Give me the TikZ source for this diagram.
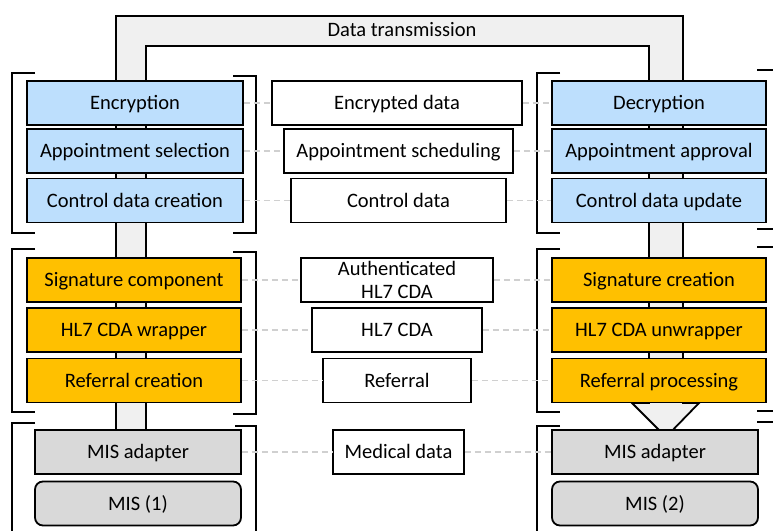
\documentclass[tikz,border=0pt]{standalone}
\usepackage{fontspec}
\setmainfont{Carlito}
\definecolor{lblue}{HTML}{BDDFFD}
\definecolor{gold}{HTML}{FFC000}
\definecolor{mgray}{HTML}{D9D9D9}
\definecolor{sgray}{HTML}{F0F0F0}
\definecolor{dgray}{HTML}{D0D0D0}
\begin{document}
\begin{tikzpicture}[x=1pt,y=-1pt,
  txt/.style={font=\fontsize{20.5}{23.5}\selectfont,text height=13.2pt,text depth=0pt,align=center},
  box/.style={txt,draw=black,line width=1.8pt,inner sep=0pt,minimum height=44pt},
  bluebox/.style={box,fill=lblue,minimum width=214pt},
  goldbox/.style={box,fill=gold,minimum width=214pt},
  graybox/.style={box,fill=mgray,minimum width=206pt},
  misbox/.style={graybox,rounded corners=8pt},
  databox/.style={box,fill=white},
  dline/.style={draw=dgray,line width=1.4pt,dash pattern=on 6pt off 4pt},
  brk/.style={draw=black,line width=1.8pt}]
\useasboundingbox (0,0) rectangle (773,530);
% transmission band
\draw[fill=sgray,line width=1.8pt,line join=miter]
  (116,440) -- (116,16) -- (683,16) -- (683,403) -- (699,403) -- (666,437)
  -- (632,403) -- (649,403) -- (649,46) -- (146,46) -- (146,440) -- cycle;
\node[txt,inner sep=0pt] (dt) at (402,30) {Data transmission};
% brackets left side
\draw[brk] (35,73) -- (12,73) -- (12,233) -- (35,233);
\draw[brk] (233,76) -- (256,76) -- (256,233) -- (233,233);
\draw[brk] (35,249) -- (12,249) -- (12,412) -- (35,412);
\draw[brk] (233,252) -- (256,252) -- (256,414) -- (233,414);
\draw[brk] (35,423) -- (12,423) -- (12,540);
\draw[brk] (235,426) -- (256,426) -- (256,540);
% brackets right side
\draw[brk] (560,73) -- (537,73) -- (537,233) -- (560,233);
\draw[brk] (757,70) -- (777,70) -- (777,229) -- (757,229);
\draw[brk] (560,249) -- (537,249) -- (537,412) -- (560,412);
\draw[brk] (757,247) -- (777,247) -- (777,411) -- (757,411);
\draw[brk] (560,426) -- (537,426) -- (537,540);
\draw[brk] (757,422) -- (777,422) -- (777,540);
% left column
\node[bluebox,minimum width=216pt] (enc) at (135,103) {Encryption};
\node[bluebox,minimum width=216pt] (aps) at (135,151) {Appointment selection};
\node[bluebox,minimum width=216pt] (cdc) at (135,200.5) {Control data creation};
\node[goldbox] (sig) at (134,280) {Signature component};
\node[goldbox] (wrp) at (134,330) {HL7 CDA wrapper};
\node[goldbox] (ref) at (134,380.5) {Referral creation};
\node[graybox] (mad1) at (138,452) {MIS adapter};
\node[misbox] (mis1) at (138,503.5) {MIS (1)};
% right column
\node[bluebox] (dec) at (659,103) {Decryption};
\node[bluebox] (apa) at (659,151) {Appointment approval};
\node[bluebox] (cdu) at (659,200.5) {Control data update};
\node[goldbox] (sgc) at (659,280) {Signature creation};
\node[goldbox] (unw) at (659,330) {HL7 CDA unwrapper};
\node[goldbox] (rfp) at (659,380.5) {Referral processing};
\node[graybox] (mad2) at (655,452) {MIS adapter};
\node[misbox] (mis2) at (655,503.5) {MIS (2)};
% middle data
\node[databox,minimum width=250pt] (encd) at (397,103) {Encrypted data};
\node[databox,minimum width=229pt] (apsc) at (398.5,151) {Appointment scheduling};
\node[databox,minimum width=215pt] (ctd) at (398.5,200.5) {Control data};
\node[databox,minimum width=192pt,text height={},text depth={}] (auth) at (397,280) {Authenticated\\HL7 CDA};
\node[databox,minimum width=170pt] (cda) at (397,330) {HL7 CDA};
\node[databox,minimum width=148pt] (refd) at (397,380.5) {Referral};
\node[databox,minimum width=131pt] (med) at (398.5,452) {Medical data};
% dashed connectors
\foreach \a/\b/\c in {enc/encd/dec, aps/apsc/apa, cdc/ctd/cdu, sig/auth/sgc, wrp/cda/unw, ref/refd/rfp, mad1/med/mad2}{
  \draw[dline] (\a.east) -- (\b.west);
  \draw[dline] (\b.east) -- (\c.west);
}
\end{tikzpicture}
\end{document}
